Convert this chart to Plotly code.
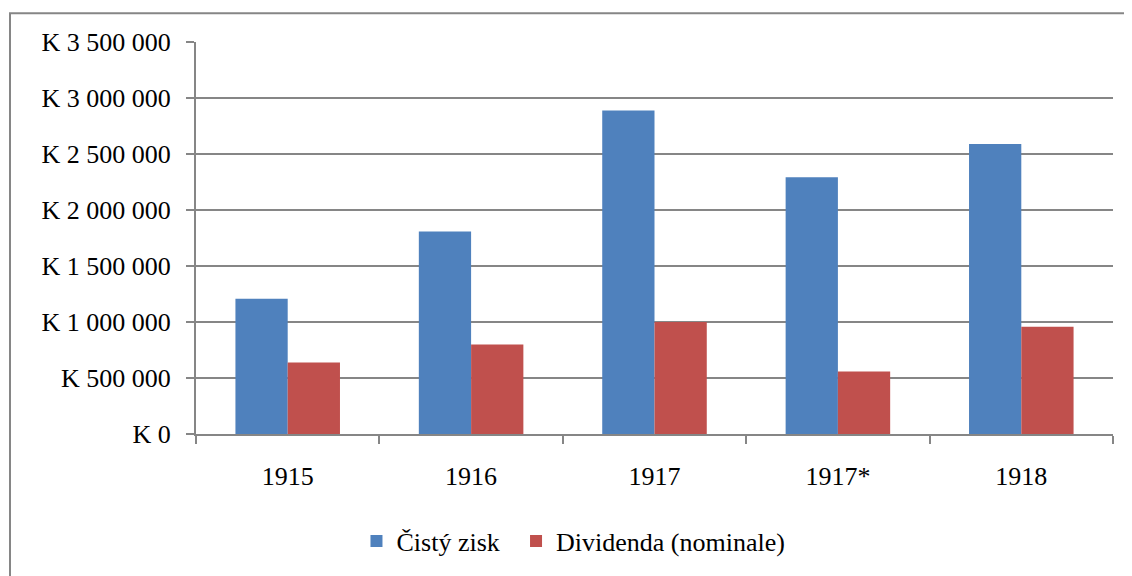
import plotly.graph_objects as go

years = ['1915', '1916', '1917', '1917*', '1918']
cisty_zisk = [1208000, 1808000, 2888000, 2292000, 2590000]
dividenda = [638000, 798000, 1000000, 558000, 957000]

y_ticks = [0, 500000, 1000000, 1500000, 2000000, 2500000, 3000000, 3500000]
y_labels = ['K 0', 'K 500 000', 'K 1 000 000', 'K 1 500 000', 'K 2 000 000',
            'K 2 500 000', 'K 3 000 000', 'K 3 500 000']

grey = '#868686'
font = dict(family='Liberation Serif, Times New Roman, serif', size=26, color='black')

fig = go.Figure()
fig.add_trace(go.Bar(x=years, y=cisty_zisk, name='Čistý zisk',
                     marker=dict(color='#4F81BD', line=dict(width=0)), legend='legend'))
fig.add_trace(go.Bar(x=years, y=dividenda, name='Dividenda (nominale)',
                     marker=dict(color='#C0504D', line=dict(width=0)), legend='legend2'))

# page body has an 8px margin, so the figure is a bit smaller than the window
fig.update_layout(
    width=1124, height=568,
    margin=dict(l=188, r=19, t=34, b=139),
    paper_bgcolor='white', plot_bgcolor='white',
    font=font,
    barmode='group', bargap=0.43, bargroupgap=0,
    showlegend=True,
    legend=dict(orientation='h', x=0.175, xanchor='left', y=-0.273, yanchor='middle', font=font),
    legend2=dict(orientation='h', x=0.349, xanchor='left', y=-0.273, yanchor='middle', font=font),
)
fig.update_yaxes(range=[0, 3500000], tickvals=y_ticks, ticktext=y_labels,
                 showgrid=True, gridcolor=grey, gridwidth=2,
                 showline=True, linecolor=grey, linewidth=2,
                 ticks='outside', ticklen=8, tickcolor=grey, tickwidth=2,
                 ticklabelstandoff=10, zeroline=False)
fig.update_xaxes(showline=True, linecolor=grey, linewidth=2,
                 ticks='outside', tickson='boundaries', ticklen=8, tickcolor=grey, tickwidth=2,
                 ticklabelstandoff=18, showgrid=False)

# outer chart frame
fig.add_shape(type='rect', xref='paper', yref='paper',
              x0=(2 - 188) / 917, x1=(1140 - 188) / 917,
              y0=(429 - 590) / 395, y1=(429 - 5) / 395,
              line=dict(color=grey, width=2), fillcolor='rgba(0,0,0,0)', layer='below')

fig.write_html("out.html")
